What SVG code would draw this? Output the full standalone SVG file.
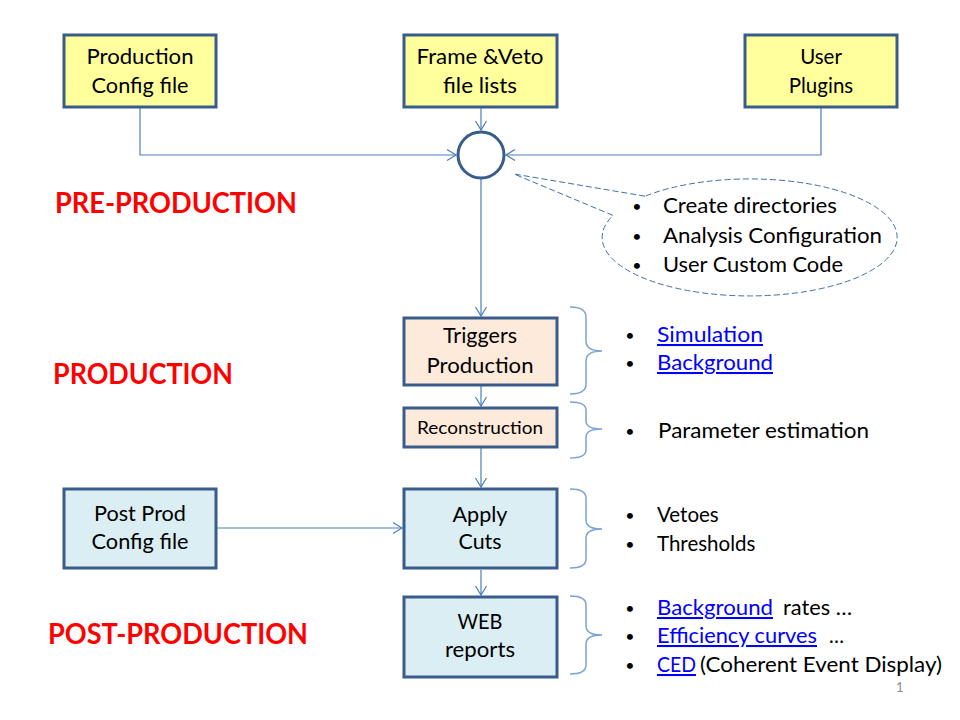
<svg xmlns="http://www.w3.org/2000/svg" width="960" height="720" viewBox="0 0 960 720">
<defs>
<style>
text{font-family:Lato,"Liberation Sans",sans-serif;fill:#000}
.box{stroke:#385D8A;stroke-width:3}
.y{fill:#FFFF9B}
.p{fill:#FDEADA}
.b{fill:#DBEEF4}
.t{font-size:20.5px;text-anchor:middle}
.s{font-size:20.5px}
.d{font-size:16px;text-anchor:middle}
.h{font-size:28px;font-weight:bold;fill:#FF0000}
.lk{fill:#0000FF;text-decoration:underline}
.c{fill:none;stroke:#4A7EBB;stroke-width:1.2}
.br{fill:none;stroke:#7BA3D6;stroke-width:1.5}
</style>
<marker id="ar" markerUnits="userSpaceOnUse" markerWidth="12" markerHeight="14" refX="10" refY="7" orient="auto">
<path d="M1,1.5 L10,7 L1,12.5" fill="none" stroke="#4A7EBB" stroke-width="1.2"/>
</marker>
</defs>
<rect width="960" height="720" fill="#fff"/>

<g id="connectors">
<path class="c" d="M140,108 V155 H456" marker-end="url(#ar)"/>
<path class="c" d="M821,107 V155 H506" marker-end="url(#ar)"/>
<path class="c" d="M481,108 V130" marker-end="url(#ar)"/>
<path class="c" d="M481,179 V316" marker-end="url(#ar)"/>
<path class="c" d="M481,386 V406" marker-end="url(#ar)"/>
<path class="c" d="M481,448 V487" marker-end="url(#ar)"/>
<path class="c" d="M481,570 V595" marker-end="url(#ar)"/>
<path class="c" d="M217,528 H402" marker-end="url(#ar)"/>
</g>

<g id="prod-config">
<rect class="box y" x="64" y="35" width="152" height="72"/>
<text class="t" x="140" y="64" textLength="107" lengthAdjust="spacingAndGlyphs">Production</text>
<text class="t" x="140" y="93" textLength="97" lengthAdjust="spacingAndGlyphs">Config file</text>
</g>
<g id="frame-veto">
<rect class="box y" x="404" y="35" width="153" height="72"/>
<text class="t" x="480" y="64" textLength="127" lengthAdjust="spacingAndGlyphs">Frame &amp;Veto</text>
<text class="t" x="480" y="93" textLength="74" lengthAdjust="spacingAndGlyphs">file lists</text>
</g>
<g id="user-plugins">
<rect class="box y" x="745" y="35" width="152" height="72"/>
<text class="t" x="821" y="64">User</text>
<text class="t" x="821" y="93">Plugins</text>
</g>

<g id="junction">
<circle cx="481" cy="155" r="23" fill="#fff" stroke="#385D8A" stroke-width="3"/>
</g>

<g id="callout">
<path d="M645,196.2 L514,174 L613,215.4 A147.5,58.5 0 1 0 645,196.2 Z" fill="#fff" stroke="#3F6FA8" stroke-width="1" stroke-dasharray="6,3"/>
<text class="d" x="637" y="212">•</text>
<text class="s" x="663" y="213" textLength="174" lengthAdjust="spacingAndGlyphs">Create directories</text>
<text class="d" x="637" y="242">•</text>
<text class="s" x="663" y="243" textLength="219" lengthAdjust="spacingAndGlyphs">Analysis Configuration</text>
<text class="d" x="637" y="271">•</text>
<text class="s" x="663" y="272" textLength="180" lengthAdjust="spacingAndGlyphs">User Custom Code</text>
</g>

<g id="labels">
<text class="h" x="55" y="213" textLength="242" lengthAdjust="spacingAndGlyphs">PRE-PRODUCTION</text>
<text class="h" x="53" y="384" textLength="180" lengthAdjust="spacingAndGlyphs">PRODUCTION</text>
<text class="h" x="48" y="644" textLength="260" lengthAdjust="spacingAndGlyphs">POST-PRODUCTION</text>
</g>

<g id="triggers">
<rect class="box p" x="404" y="318" width="153" height="67"/>
<text class="t" x="480" y="343" textLength="74" lengthAdjust="spacingAndGlyphs">Triggers</text>
<text class="t" x="480" y="373" textLength="107" lengthAdjust="spacingAndGlyphs">Production</text>
</g>
<g id="reconstruction">
<rect class="box p" x="404" y="408" width="153" height="39"/>
<text x="480" y="434" font-size="17px" text-anchor="middle" textLength="126" lengthAdjust="spacingAndGlyphs">Reconstruction</text>
</g>
<g id="apply-cuts">
<rect class="box b" x="404" y="489" width="153" height="79"/>
<text class="t" x="480" y="522" textLength="55" lengthAdjust="spacingAndGlyphs">Apply</text>
<text class="t" x="480" y="549" textLength="43" lengthAdjust="spacingAndGlyphs">Cuts</text>
</g>
<g id="web-reports">
<rect class="box b" x="404" y="597" width="153" height="80"/>
<text class="t" x="480" y="629" textLength="45" lengthAdjust="spacingAndGlyphs">WEB</text>
<text class="t" x="480" y="657" textLength="70" lengthAdjust="spacingAndGlyphs">reports</text>
</g>
<g id="post-config">
<rect class="box b" x="64" y="489" width="152" height="79"/>
<text class="t" x="140" y="521" textLength="92" lengthAdjust="spacingAndGlyphs">Post Prod</text>
<text class="t" x="140" y="549" textLength="97" lengthAdjust="spacingAndGlyphs">Config file</text>
</g>

<g id="braces">
<path class="br" d="M570,307 Q586,307 586,317 V341 Q586,351 602,351 Q586,351 586,361 V384 Q586,394 570,394"/>
<path class="br" d="M570,402 Q586,402 586,410 V421 Q586,429 602,429 Q586,429 586,437 V450 Q586,458 570,458"/>
<path class="br" d="M570,489 Q586,489 586,498 V520 Q586,529 602,529 Q586,529 586,538 V559 Q586,568 570,568"/>
<path class="br" d="M570,596 Q586,596 586,605 V626 Q586,635 602,635 Q586,635 586,644 V665 Q586,674 570,674"/>
</g>

<g id="notes">
<text class="d" x="630" y="341">•</text>
<text class="s lk" x="657" y="342" textLength="106" lengthAdjust="spacingAndGlyphs">Simulation</text>
<text class="d" x="630" y="369">•</text>
<text class="s lk" x="657" y="370" textLength="116" lengthAdjust="spacingAndGlyphs">Background</text>
<text class="d" x="630" y="437">•</text>
<text class="s" x="658" y="438" textLength="211" lengthAdjust="spacingAndGlyphs">Parameter estimation</text>
<text class="d" x="630" y="521">•</text>
<text class="s" x="657" y="522">Vetoes</text>
<text class="d" x="630" y="550">•</text>
<text class="s" x="657" y="551">Thresholds</text>
<text class="d" x="630" y="614">•</text>
<text class="s lk" x="657" y="615" textLength="116" lengthAdjust="spacingAndGlyphs">Background</text>
<text class="s" x="783" y="615" textLength="69" lengthAdjust="spacingAndGlyphs">rates …</text>
<text class="d" x="630" y="642">•</text>
<text class="s lk" x="657" y="643" textLength="160" lengthAdjust="spacingAndGlyphs">Efficiency curves</text>
<text class="s" x="829" y="643" textLength="15" lengthAdjust="spacingAndGlyphs">…</text>
<text class="d" x="630" y="671">•</text>
<text class="s lk" x="657" y="672" textLength="39" lengthAdjust="spacingAndGlyphs">CED</text>
<text class="s" x="700" y="672" textLength="242" lengthAdjust="spacingAndGlyphs">(Coherent Event Display)</text>
<text x="896" y="692" font-size="13px" style="fill:#8c8c8c">1</text>
</g>
</svg>
